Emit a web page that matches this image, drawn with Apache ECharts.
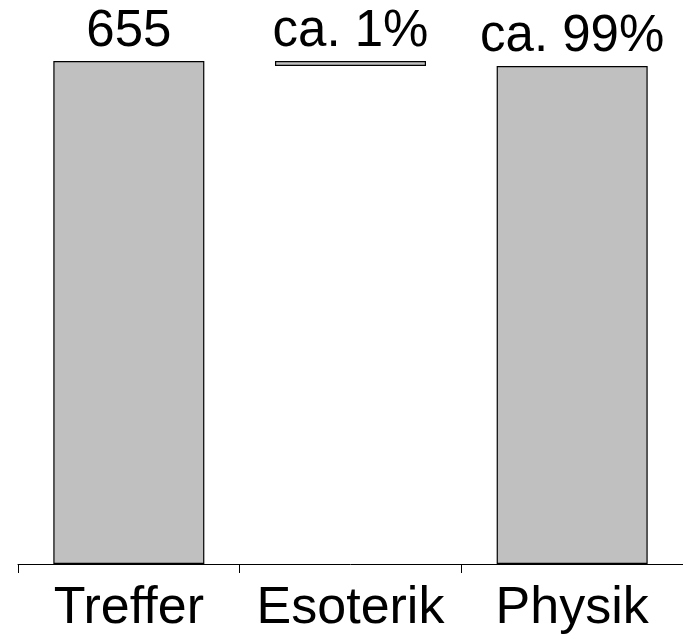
<!DOCTYPE html>
<html>
<head>
<meta charset="utf-8">
<script src="https://cdn.jsdelivr.net/npm/echarts@6/dist/echarts.min.js"></script>
<style>html,body{margin:0;padding:0;background:#fff}#c{width:683px;height:635px}</style>
</head>
<body>
<div id="c"></div>
<script>
var categories = ['Treffer', 'Esoterik', 'Physik'];
var baseValues = [0, 648.45, 0];
var barValues = [655, 6.55, 648.45];
var topLabels = ['655', 'ca. 1%', 'ca. 99%'];

var chart = echarts.init(document.getElementById('c'), null, {renderer: 'canvas'});
chart.setOption({
  animation: false,
  grid: {left: 18, right: -5, top: 61, bottom: 67},
  xAxis: {
    type: 'category',
    data: categories,
    axisLine: {lineStyle: {color: '#000', width: 1}},
    axisTick: {show: true, interval: 0, length: 9, lineStyle: {color: '#000'}},
    axisLabel: {interval: 0, hideOverlap: false, color: '#000', fontSize: 52, fontFamily: 'Liberation Sans', margin: 19}
  },
  yAxis: {
    type: 'value', min: 0, max: 655, show: false,
    splitLine: {show: false}
  },
  series: [
    {
      type: 'bar', stack: 's', data: baseValues,
      itemStyle: {color: 'transparent', borderWidth: 0},
      silent: true
    },
    {
      type: 'bar', stack: 's', data: barValues, barWidth: 151,
      itemStyle: {color: '#c0c0c0', borderColor: '#000', borderWidth: 1.2},
      label: {
        show: true, position: 'top', distance: 4,
        formatter: function (p) { return topLabels[p.dataIndex]; },
        color: '#000', fontSize: 51, fontFamily: 'Liberation Sans'
      }
    }
  ]
});
</script>
</body>
</html>
